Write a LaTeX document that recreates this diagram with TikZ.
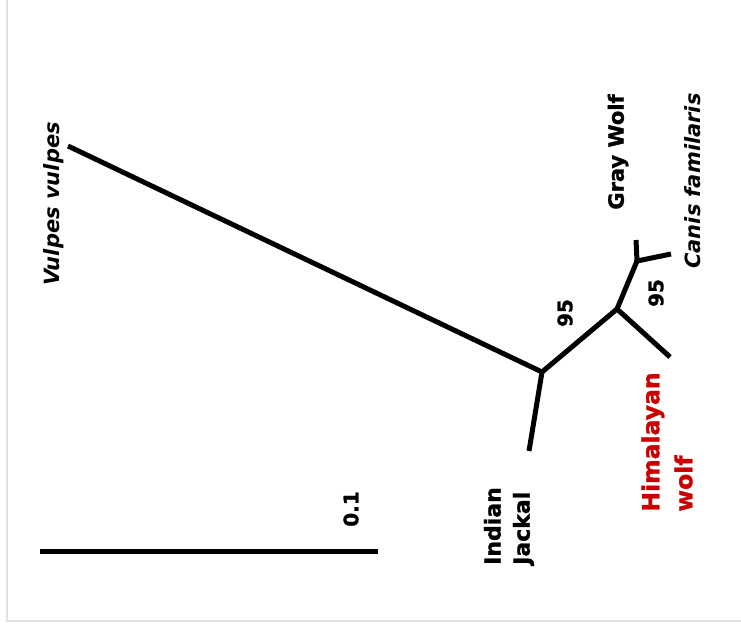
\documentclass[tikz,border=0pt]{standalone}
\usepackage{fontspec}
\setmainfont{DejaVu Sans}[BoldFeatures={FakeBold=1.2}]
\usepackage{xcolor}
\usepackage{tikz}
\definecolor{himred}{RGB}{204,0,0}
\definecolor{framegray}{RGB}{224,224,224}

\begin{document}
\begin{tikzpicture}[x=1pt, y=-1pt,
		branch/.style={line width=5pt},
		scalebar/.style={line width=5pt},
		taxon/.style={rotate=90, inner sep=0pt, align=left,
				font=\fontsize{21}{26}\selectfont\bfseries},
		sciname/.style={taxon, font=\fontsize{21}{26}\selectfont\bfseries\itshape},
		boot/.style={rotate=90, inner sep=0pt, font=\fontsize{20}{24}\selectfont\bfseries},
		outframe/.style={draw=framegray, line width=2pt},
	]
	\useasboundingbox (0,0) rectangle (741,630);
	\clip (0,0) rectangle (741,630);
	\draw[outframe] (7,-10) rectangle (760,621);
	% tree
	\coordinate (root)     at (542,372);
	\coordinate (wolfnode) at (617,309);
	\coordinate (dognode)  at (637,261);
	\coordinate (vulpes)   at ( 68,146);
	\coordinate (jackal)   at (529,451);
	\coordinate (himwolf)  at (670,357);
	\coordinate (graywolf) at (636,240);
	\coordinate (canis)    at (671,254);
	\draw[branch] (root) -- (vulpes);
	\draw[branch] (root) -- (jackal);
	\draw[branch] (root) -- (wolfnode);
	\draw[branch] (wolfnode) -- (himwolf);
	\draw[branch] (wolfnode) -- (dognode);
	\draw[branch] (dognode) -- (graywolf);
	\draw[branch] (dognode) -- (canis);
	% labels
	\node[sciname] (lvulpes) at ( 54,204) {Vulpes vulpes};
	\node[taxon]   (lgray)   at (618,152) {Gray Wolf};
	\node[sciname] (lcanis)  at (693,181) {Canis familaris};
	\node[taxon, font=\fontsize{22}{29}\selectfont\bfseries]
	(ljackal) at (509,526) {Indian\\Jackal};
	\node[taxon, text=himred, font=\fontsize{23.5}{33}\selectfont\bfseries]
	(lhim) at (667,442) {Himalayan\\wolf};
	\node[boot] (bootroot) at (565,313) {95};
	\node[boot] (bootdog)  at (656,293) {95};
	% scale
	\coordinate (sbleft)  at ( 40,551);
	\coordinate (sbright) at (378,551);
	\draw[scalebar] (sbleft) -- (sbright);
	\node[boot] (lscale) at (351,509) {0.1};
\end{tikzpicture}
\end{document}
